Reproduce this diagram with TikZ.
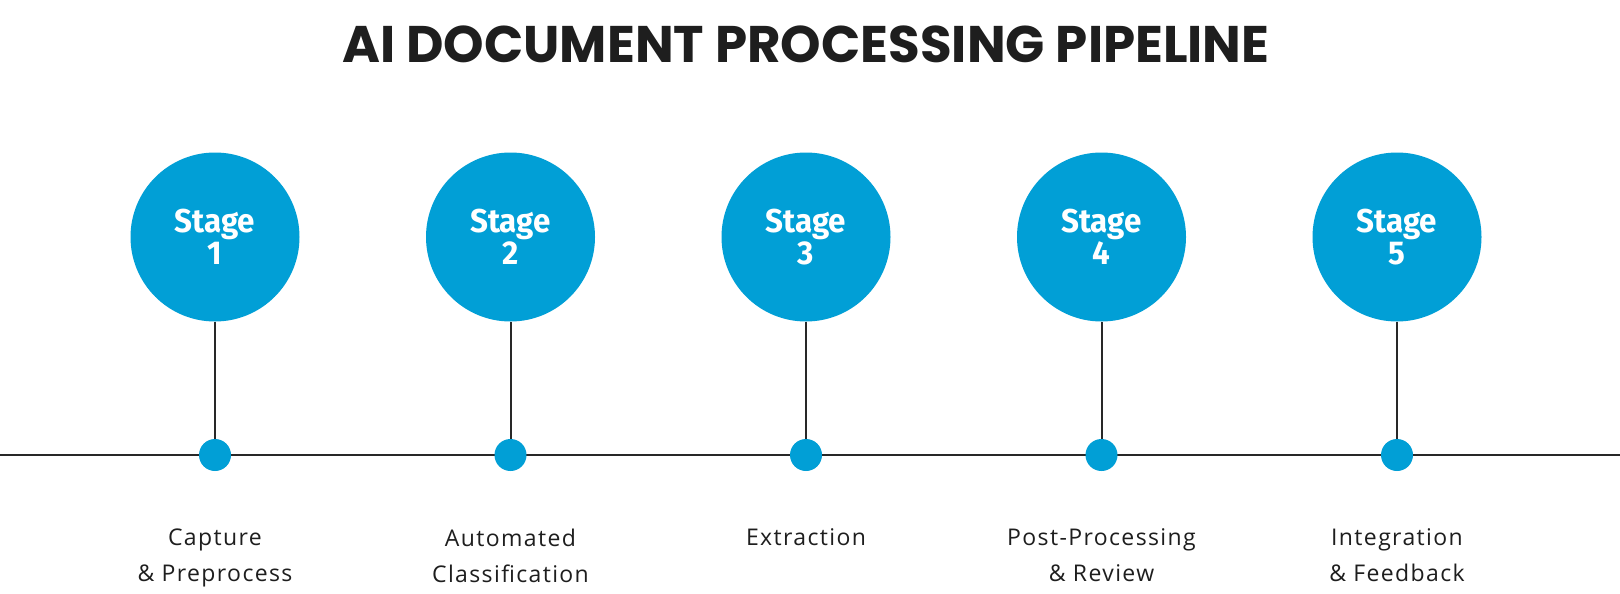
\documentclass[tikz,border=0pt]{standalone}
\usepackage{fontspec}
\setmainfont{Open Sans}
\newfontfamily\titlefont{Poppins}
\newfontfamily\stagefont{Fira Sans}[FakeStretch=0.95]
\newfontfamily\labelfont{Open Sans}[LetterSpace=6]
\definecolor{stageblue}{RGB}{1,159,214}
\definecolor{linegray}{RGB}{40,40,40}
\definecolor{textdark}{RGB}{30,30,30}
\tikzset{
  stagecircle/.style={circle, fill=stageblue, draw=none, minimum size=169pt, inner sep=0pt,
    text=white, align=center, font=\stagefont\bfseries\fontsize{33}{32}\selectfont},
  stagedot/.style={circle, fill=stageblue, draw=none, minimum size=32pt, inner sep=0pt},
  connector/.style={draw=linegray, line width=2pt},
  stagelabel/.style={text=textdark, align=center, font=\labelfont\fontsize{23}{36}\selectfont},
  titletext/.style={text=textdark, font=\titlefont\bfseries\fontsize{51.5}{55}\selectfont}
}
\begin{document}
\begin{tikzpicture}[x=1pt,y=-1pt]
\fill[white] (0,0) rectangle (1620,594);
\useasboundingbox (0,0) rectangle (1620,594);
\node[titletext] (title) at (806,44) {AI DOCUMENT PROCESSING PIPELINE};
\coordinate (tl) at (0,455);
\coordinate (tr) at (1620,455);
\draw[connector] (tl) -- (tr);
\foreach \i/\x/\a/\b in {1/215/Capture/{\& Preprocess},2/510.5/Automated/Classification,3/806/Extraction/{},4/1101.5/Post-Processing/{\& Review},5/1397/Integration/{\& Feedback}}{
  \node[stagecircle] (s\i) at (\x,237) {Stage\\\i};
  \node[stagedot] (d\i) at (\x,455) {};
  \draw[connector] (s\i.south) -- (d\i.north);
  \node[stagelabel, anchor=north] (l\i) at (\x,525) {\a\\\b};
}
\end{tikzpicture}
\end{document}
